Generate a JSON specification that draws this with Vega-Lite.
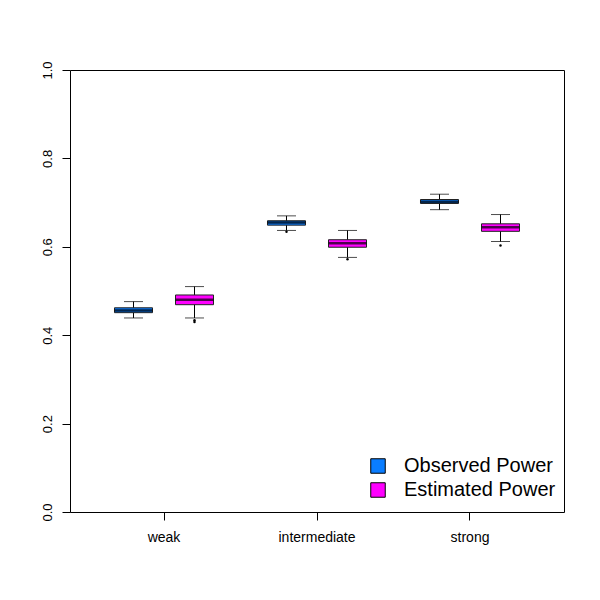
{
  "$schema": "https://vega.github.io/schema/vega-lite/v6.json",
  "autosize": {"type": "none"},
  "padding": {"left": 70, "top": 70, "right": 36, "bottom": 88},
  "width": 494,
  "height": 442,
  "background": "white",
  "config": {
    "view": {"stroke": "black", "strokeWidth": 1},
    "font": "Liberation Sans",
    "axis": {"labelFont": "Liberation Sans", "labelColor": "black", "tickColor": "black", "domain": false, "grid": false, "title": null, "tickSize": 8}
  },
  "datasets": {
    "boxes": [
      {"strength": "weak", "type": "Observed Power", "lower": 0.439, "q1": 0.451, "median": 0.456, "q3": 0.462, "upper": 0.476},
      {"strength": "weak", "type": "Estimated Power", "lower": 0.439, "q1": 0.469, "median": 0.480, "q3": 0.491, "upper": 0.510},
      {"strength": "intermediate", "type": "Observed Power", "lower": 0.637, "q1": 0.649, "median": 0.655, "q3": 0.659, "upper": 0.670},
      {"strength": "intermediate", "type": "Estimated Power", "lower": 0.576, "q1": 0.599, "median": 0.608, "q3": 0.616, "upper": 0.637},
      {"strength": "strong", "type": "Observed Power", "lower": 0.684, "q1": 0.698, "median": 0.702, "q3": 0.707, "upper": 0.719},
      {"strength": "strong", "type": "Estimated Power", "lower": 0.612, "q1": 0.635, "median": 0.644, "q3": 0.652, "upper": 0.673}
    ],
    "outliers": [
      {"strength": "weak", "type": "Estimated Power", "value": 0.434},
      {"strength": "weak", "type": "Estimated Power", "value": 0.430},
      {"strength": "intermediate", "type": "Observed Power", "value": 0.634},
      {"strength": "intermediate", "type": "Estimated Power", "value": 0.572},
      {"strength": "strong", "type": "Estimated Power", "value": 0.603}
    ]
  },
  "encoding": {
    "x": {"field": "strength", "type": "nominal", "sort": ["weak", "intermediate", "strong"],
          "scale": {"paddingInner": 0, "paddingOuter": 0.1144},
          "axis": {"labelAngle": 0, "labelFontSize": 14, "labelPadding": 10}},
    "xOffset": {"field": "type", "type": "nominal", "scale": {"domain": ["Observed Power", "Estimated Power"], "paddingInner": 0, "paddingOuter": 0.254}}
  },
  "layer": [
    {
      "data": {"name": "boxes"},
      "mark": {"type": "rule", "color": "black", "strokeWidth": 1},
      "encoding": {
        "y": {"field": "lower", "type": "quantitative", "scale": {"domain": [0, 1], "nice": false, "zero": false},
              "axis": {"values": [0, 0.2, 0.4, 0.6, 0.8, 1.0], "format": ".1f", "labelAngle": 270, "labelFontSize": 13, "labelPadding": 8}},
        "y2": {"field": "upper"}
      }
    },
    {
      "data": {"name": "boxes"},
      "mark": {"type": "tick", "orient": "horizontal", "color": "black", "size": 19, "thickness": 1},
      "encoding": {"y": {"field": "lower", "type": "quantitative"}}
    },
    {
      "data": {"name": "boxes"},
      "mark": {"type": "tick", "orient": "horizontal", "color": "black", "size": 19, "thickness": 1},
      "encoding": {"y": {"field": "upper", "type": "quantitative"}}
    },
    {
      "data": {"name": "boxes"},
      "mark": {"type": "bar", "width": 38, "stroke": "#222222", "strokeWidth": 1},
      "encoding": {
        "y": {"field": "q1", "type": "quantitative"},
        "y2": {"field": "q3"},
        "fill": {"field": "type", "type": "nominal",
                 "scale": {"domain": ["Observed Power", "Estimated Power"], "range": ["#0A7DFF", "#FF00FF"]},
                 "legend": {"title": null, "orient": "none", "legendX": 298, "legendY": 386, "padding": 0,
                            "symbolType": "square", "symbolSize": 210, "symbolStrokeColor": "black", "symbolStrokeWidth": 1,
                            "labelFontSize": 20, "labelFont": "Liberation Sans", "labelColor": "black", "labelOffset": 16, "rowPadding": 4}}
      }
    },
    {
      "data": {"name": "boxes"},
      "mark": {"type": "tick", "orient": "horizontal", "color": "black", "size": 38, "thickness": 2.5},
      "encoding": {"y": {"field": "median", "type": "quantitative"}}
    },
    {
      "data": {"name": "outliers"},
      "mark": {"type": "point", "filled": true, "color": "black", "size": 6, "opacity": 1},
      "encoding": {"y": {"field": "value", "type": "quantitative"}}
    }
  ]
}
